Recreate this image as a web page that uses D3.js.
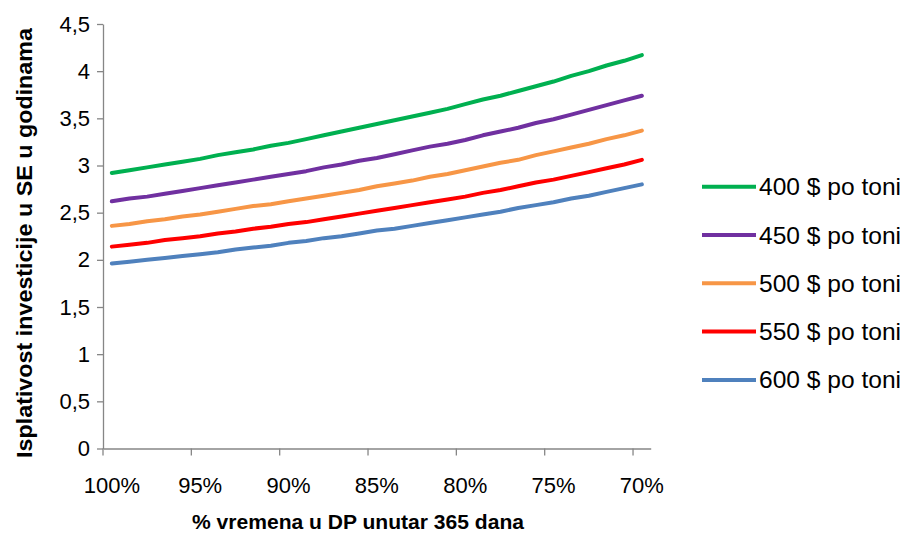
<!DOCTYPE html>
<html><head><meta charset="utf-8">
<script src="https://cdn.jsdelivr.net/npm/d3@7"></script>
<style>
body{margin:0;background:#fff;}
svg{display:block;font-family:"Liberation Sans",Arial,sans-serif;}
</style></head>
<body><svg id="c" width="904" height="534"></svg>
<script>
const categories = [100,99,98,97,96,95,94,93,92,91,90,89,88,87,86,85,84,83,82,81,80,79,78,77,76,75,74,73,72,71,70];
const s400 = [2.92,2.95,2.98,3.01,3.04,3.07,3.11,3.14,3.17,3.21,3.24,3.28,3.32,3.36,3.40,3.44,3.48,3.52,3.56,3.60,3.65,3.70,3.74,3.79,3.84,3.89,3.95,4.00,4.06,4.11,4.17];
const s450 = [2.62,2.65,2.67,2.70,2.73,2.76,2.79,2.82,2.85,2.88,2.91,2.94,2.98,3.01,3.05,3.08,3.12,3.16,3.20,3.23,3.27,3.32,3.36,3.40,3.45,3.49,3.54,3.59,3.64,3.69,3.74];
const s500 = [2.36,2.38,2.41,2.43,2.46,2.48,2.51,2.54,2.57,2.59,2.62,2.65,2.68,2.71,2.74,2.78,2.81,2.84,2.88,2.91,2.95,2.99,3.03,3.06,3.11,3.15,3.19,3.23,3.28,3.32,3.37];
const s550 = [2.14,2.16,2.18,2.21,2.23,2.25,2.28,2.30,2.33,2.35,2.38,2.40,2.43,2.46,2.49,2.52,2.55,2.58,2.61,2.64,2.67,2.71,2.74,2.78,2.82,2.85,2.89,2.93,2.97,3.01,3.06];
const s600 = [1.96,1.98,2.00,2.02,2.04,2.06,2.08,2.11,2.13,2.15,2.18,2.20,2.23,2.25,2.28,2.31,2.33,2.36,2.39,2.42,2.45,2.48,2.51,2.55,2.58,2.61,2.65,2.68,2.72,2.76,2.80];
const seriesNames = ["400 $ po toni","450 $ po toni","500 $ po toni","550 $ po toni","600 $ po toni"];
const seriesColors = ["#00B050","#7030A0","#F79646","#FF0000","#4F81BD"];
const xTickLabels = [100,95,90,85,80,75,70];
const yTicks = [0,0.5,1,1.5,2,2.5,3,3.5,4,4.5];
const yTitle = "Isplativost investicije u SE  u godinama";
const xTitle = "% vremena u DP unutar 365 dana";

const seriesData = [s400,s450,s500,s550,s600];
const svg = d3.select("#c");
const L = 103, R = 650.7, T = 24, B = 448.5;
const xb = d3.scaleBand().domain(categories).range([L,R]).paddingInner(0).paddingOuter(0);
const xc = d => xb(d) + xb.bandwidth()/2;
const y = d3.scaleLinear().domain([0,4.5]).range([B,T]);
const axisCol = "#868686";

// Y axis
const ya = svg.append("g").attr("transform",`translate(${L},0)`)
  .call(d3.axisLeft(y).tickValues(yTicks).tickSize(6).tickSizeOuter(0).tickPadding(7)
    .tickFormat(d => String(d).replace(".",",")));
ya.select(".domain").attr("stroke",axisCol).attr("stroke-width",1.3);
ya.selectAll(".tick line").attr("stroke",axisCol).attr("stroke-width",1.3);
ya.selectAll("text").attr("font-size",22).attr("fill","#000").attr("font-family","Liberation Sans, Arial, sans-serif");

// X axis: labels at categories, ticks at boundaries every 5 categories
const xa = svg.append("g").attr("transform",`translate(0,${B})`)
  .call(d3.axisBottom(d3.scaleLinear().domain([L,R]).range([L,R])).tickValues([]).tickSizeOuter(0));
xa.select(".domain").attr("stroke",axisCol).attr("stroke-width",1.3);
xa.selectAll(".bt").data(xTickLabels).enter().append("line")
  .attr("x1",d=>xb(d)).attr("x2",d=>xb(d)).attr("y1",0).attr("y2",7)
  .attr("stroke",axisCol).attr("stroke-width",1.3);
xa.selectAll(".lb").data(xTickLabels).enter().append("text")
  .attr("x",d=>xc(d)).attr("y",44).attr("text-anchor","middle")
  .attr("font-size",22).attr("fill","#000").text(d=>d+"%");

// Lines
const line = d3.line().x((d,i)=>xc(categories[i])).y(d=>y(d));
seriesData.forEach((s,k)=>{
  svg.append("path").datum(s).attr("d",line).attr("fill","none")
    .attr("stroke",seriesColors[k]).attr("stroke-width",4)
    .attr("stroke-linejoin","round").attr("stroke-linecap","round");
});

// Legend
const lg = svg.append("g");
seriesNames.forEach((n,k)=>{
  const yy = 186.7 + k*48.3;
  lg.append("line").attr("x1",702).attr("x2",756).attr("y1",yy).attr("y2",yy)
    .attr("stroke",seriesColors[k]).attr("stroke-width",4);
  lg.append("text").attr("x",759).attr("y",yy+8.5).attr("font-size",24).attr("fill","#000")
    .attr("textLength",142).attr("lengthAdjust","spacingAndGlyphs").text(n);
});

// Titles
svg.append("text").attr("transform",`translate(32,243) rotate(-90)`)
  .attr("text-anchor","middle").attr("font-weight","bold").attr("font-size",22).attr("fill","#000")
  .attr("textLength",430).attr("lengthAdjust","spacingAndGlyphs").text(yTitle);
svg.append("text").attr("x",358).attr("y",529).attr("text-anchor","middle")
  .attr("font-weight","bold").attr("font-size",21).attr("fill","#000")
  .attr("textLength",332).attr("lengthAdjust","spacingAndGlyphs").text(xTitle);
</script></body></html>
